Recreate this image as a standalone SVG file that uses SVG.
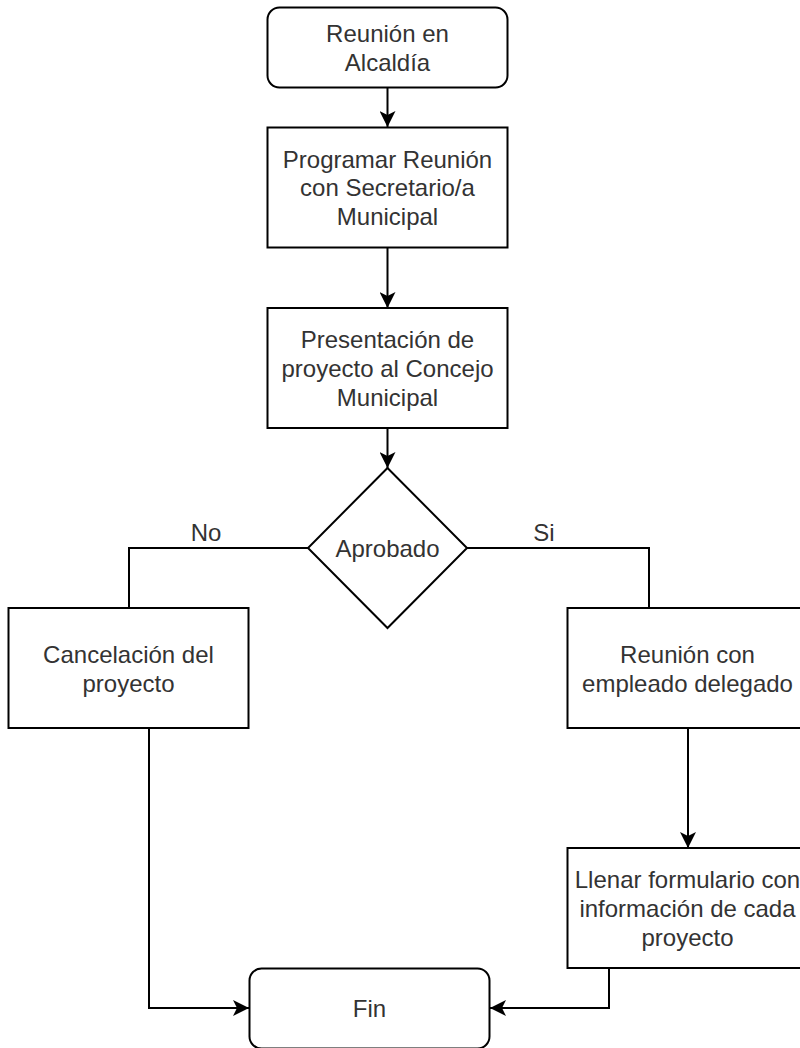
<svg xmlns="http://www.w3.org/2000/svg" width="800" height="1048" viewBox="0 0 800 1048">
<style>
.box{fill:#ffffff;stroke:#000000;stroke-width:2}
.edge{fill:none;stroke:#000000;stroke-width:2}
.t{font-family:"Liberation Sans",Arial,sans-serif;font-size:24px;fill:#333333;text-anchor:middle;dominant-baseline:central}
</style>
<defs>
<marker id="arr" viewBox="0 0 16 16" refX="16" refY="8" markerWidth="16" markerHeight="16" markerUnits="userSpaceOnUse" orient="auto">
<path d="M0,0 L16,8 L0,16 L4,8 z" fill="#000000"/>
</marker>
</defs>
<rect width="800" height="1048" fill="#ffffff"/>
<g id="connectors">
<path class="edge" d="M387.5,88 L387.5,127" marker-end="url(#arr)"/>
<path class="edge" d="M387.5,248 L387.5,308" marker-end="url(#arr)"/>
<path class="edge" d="M387.5,428 L387.5,468" marker-end="url(#arr)"/>
<path class="edge" d="M308,548 L129,548 L129,608"/>
<path class="edge" d="M467,548 L649,548 L649,608"/>
<path class="edge" d="M688,728 L688,848" marker-end="url(#arr)"/>
<path class="edge" d="M149,728 L149,1008 L249,1008" marker-end="url(#arr)"/>
<path class="edge" d="M609,968 L609,1008 L490,1008" marker-end="url(#arr)"/>
<text class="t" x="206" y="532">No</text>
<text class="t" x="544" y="532">Si</text>
</g>
<g id="n1">
<rect class="box" x="267.5" y="7.5" width="240" height="80" rx="12"/>
<text class="t" x="387.5" y="33">Reunión en</text>
<text class="t" x="387.5" y="62">Alcaldía</text>
</g>
<g id="n2">
<rect class="box" x="267.5" y="127.5" width="240" height="120"/>
<text class="t" x="387.5" y="159">Programar Reunión</text>
<text class="t" x="387.5" y="187.5">con Secretario/a</text>
<text class="t" x="387.5" y="216.5">Municipal</text>
</g>
<g id="n3">
<rect class="box" x="267.5" y="308" width="240" height="120"/>
<text class="t" x="387.5" y="339.5">Presentación de</text>
<text class="t" x="387.5" y="368">proyecto al Concejo</text>
<text class="t" x="387.5" y="397">Municipal</text>
</g>
<g id="n4">
<polygon class="box" points="387.5,468 467,548 387.5,628 308,548"/>
<text class="t" x="387.5" y="548">Aprobado</text>
</g>
<g id="n5">
<rect class="box" x="8.5" y="608" width="240" height="120"/>
<text class="t" x="128.5" y="654">Cancelación del</text>
<text class="t" x="128.5" y="683">proyecto</text>
</g>
<g id="n6">
<rect class="box" x="567.5" y="608" width="240" height="120"/>
<text class="t" x="687.5" y="654">Reunión con</text>
<text class="t" x="687.5" y="683">empleado delegado</text>
</g>
<g id="n7">
<rect class="box" x="567.5" y="848" width="240" height="120"/>
<text class="t" x="687.5" y="879.5">Llenar formulario con</text>
<text class="t" x="687.5" y="908">información de cada</text>
<text class="t" x="687.5" y="937">proyecto</text>
</g>
<g id="n8">
<rect class="box" x="249.5" y="968.5" width="240" height="80" rx="12"/>
<text class="t" x="369.5" y="1008">Fin</text>
</g>
</svg>
